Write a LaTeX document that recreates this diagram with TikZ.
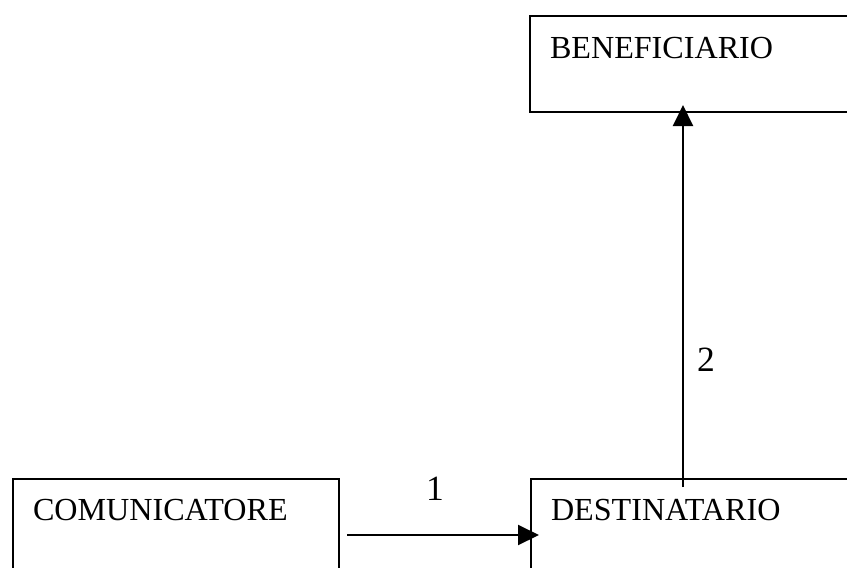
\documentclass[tikz,border=0pt]{standalone}
\usepackage{fontspec}
\setmainfont{Liberation Serif}
\usetikzlibrary{arrows.meta,calc}

\tikzset{
  entity/.style={draw, line width=0.8pt, rectangle, anchor=north west,
    inner xsep=8pt, inner ysep=8pt, align=left,
    text height=8.4pt, font=\fontsize{12.85}{15}\selectfont},
  flow/.style={line width=0.8pt, -{Triangle[length=8.4pt,width=8pt]}},
  flowlabel/.style={font=\fontsize{14.2}{17}\selectfont, inner sep=0pt}
}

\begin{document}
\begin{tikzpicture}[x=0.4pt, y=-0.4pt]
  \path[use as bounding box, clip] (0,0) rectangle (847,567);

  % the three parties
  \node[entity, text width=120.4pt, text depth=13.2pt, inner ysep=8.4pt] (benef) at (529,15) {BENEFICIARIO};
  \node[entity, text width=114.4pt, text depth=23.6pt] (comm) at (12,478) {COMUNICATORE};
  \node[entity, text width=120pt, text depth=23.6pt] (dest) at (530,478) {DESTINATARIO};

  % flow 1: communicator to recipient
  \coordinate (f1start) at (347,535);
  \draw[flow] (f1start) -- ([xshift=3.6pt]dest.west |- f1start) coordinate (f1end);
  \node[flowlabel] (lbl1) at (435,489) {1};

  % flow 2: recipient to beneficiary
  \coordinate (f2start) at (683,487);
  \draw[flow] (f2start) -- ([yshift=3.2pt]benef.south -| f2start) coordinate (f2end);
  \node[flowlabel] (lbl2) at (706,360) {2};
\end{tikzpicture}
\end{document}
